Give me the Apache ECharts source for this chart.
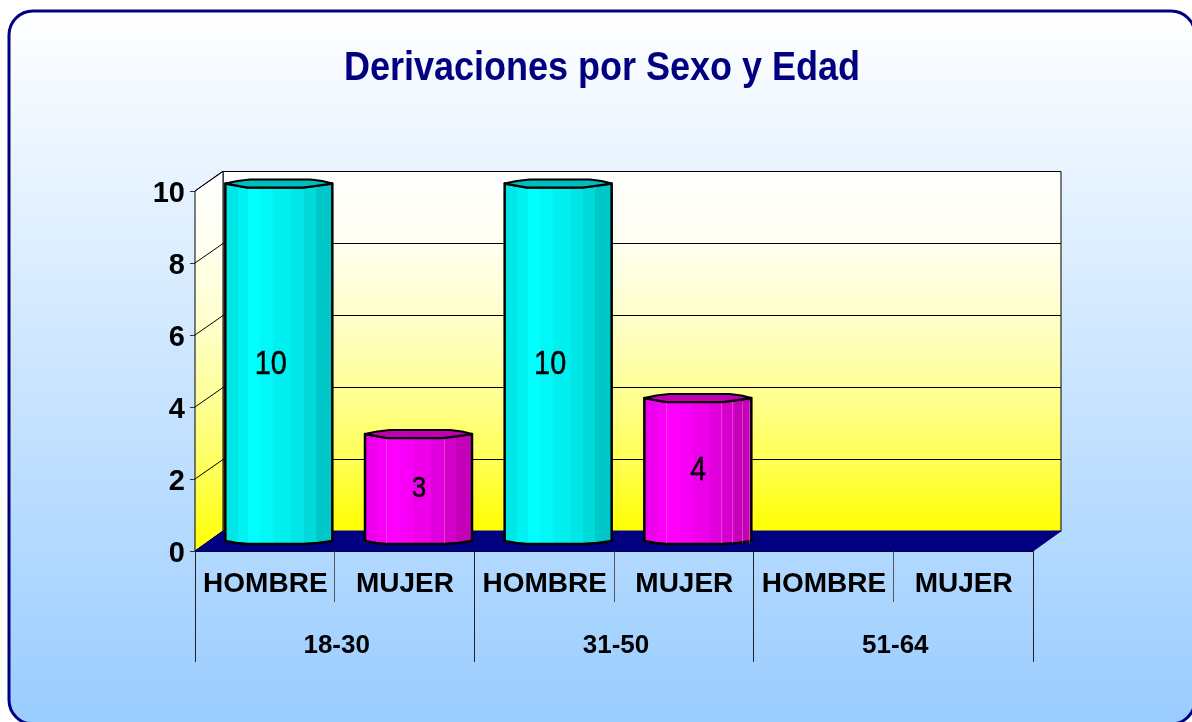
<!DOCTYPE html>
<html>
<head>
<meta charset="utf-8">
<style>html,body{margin:0;padding:0;background:#fff}#c{width:1192px;height:722px}</style>
<script src="https://cdn.jsdelivr.net/npm/echarts@6/dist/echarts.min.js"></script>
</head>
<body>
<div id="c"></div>
<script>
const titleText = 'Derivaciones por Sexo y Edad';
const sexCategories = ['HOMBRE', 'MUJER', 'HOMBRE', 'MUJER', 'HOMBRE', 'MUJER'];
const ageGroups = ['18-30', '31-50', '51-64'];
const derivaciones = [10, 3, 10, 4, 0, 0];
const yTicks = [0, 2, 4, 6, 8, 10];

const FONT = '"Liberation Sans", Arial, sans-serif';
const DX = 28, DY = -20;          // depth of the 3D box
const HALF_W = 53.5;              // half width of a column

const facetStops = [0, .125, .22, .33, .45, .61, .73, .84, 1];
const cyanFacets = ['#00e6e6', '#00f2f2', '#00ffff', '#00f8f8', '#00f0f0', '#00e6e6', '#00dada', '#00c8c8'];
const magentaFacets = ['#ee00ee', '#f800f8', '#ff00ff', '#f800f8', '#ee00ea', '#e000dc', '#d400cc', '#c400b8'];
// faint facet seams on the magenta columns, as fractions of the column width
const seamsByValue = { 3: [.2, .74], 4: [.2, .72, .82, .91, .98] };

function facetGradient(colors) {
  const stops = [];
  colors.forEach((c, i) => {
    stops.push({ offset: facetStops[i], color: c });
    stops.push({ offset: facetStops[i + 1], color: c });
  });
  return { type: 'linear', x: 0, y: 0, x2: 1, y2: 0, colorStops: stops };
}
const wallGradient = {
  type: 'linear', x: 0, y: 0, x2: 0, y2: 1,
  colorStops: [
    { offset: 0, color: '#ffffff' }, { offset: .2, color: '#fffff0' },
    { offset: .4, color: '#ffffcc' }, { offset: .6, color: '#ffff99' },
    { offset: .8, color: '#ffff55' }, { offset: 1, color: '#ffff00' }
  ]
};

function renderBox(params, api) {
  const g = params.coordSys;
  const l = g.x, r = g.x + g.width, t = g.y, b = g.y + g.height;
  const line = { stroke: '#000', lineWidth: 1, fill: null };
  const children = [
    { type: 'polygon', shape: { points: [[l + DX, t + DY + .5], [r + DX, t + DY + .5], [r + DX, b + DY + .5], [l + DX, b + DY + .5]] },
      style: { fill: wallGradient, stroke: '#000', lineWidth: 1 } },
    { type: 'polygon', shape: { points: [[l, t], [l + DX, t + DY], [l + DX, b + DY], [l, b]] },
      style: { fill: wallGradient, stroke: '#000', lineWidth: 1 } }
  ];
  yTicks.forEach(v => {
    if (v === 0) return;
    const y = api.coord([0, v])[1];
    children.push({ type: 'polyline', shape: { points: [[l, y], [l + DX, y + DY + .5], [r + DX, y + DY + .5]] }, style: line });
  });
  children.push({ type: 'polygon', shape: { points: [[l, b], [r, b], [r + DX, b + DY], [l + DX, b + DY]] },
    style: { fill: '#000080', stroke: '#000080', lineWidth: 1 } });
  return { type: 'group', children };
}

function renderColumn(params, api) {
  const idx = api.value(0), val = api.value(1);
  if (!val) return { type: 'group', children: [] };
  const top = api.coord([idx, val]);
  const base = api.coord([idx, 0]);
  const cx = top[0] + DX / 2;
  const yTop = top[1] + DY / 2 + (val >= 10 ? 1.5 : 0), yBase = base[1] + DY / 2;
  const w = HALF_W;
  const isMale = idx % 2 === 0;
  const body = [
    [cx - w, yTop + 1], [cx - w + 11, yTop + 3], [cx - w + 22, yTop + 5], [cx + w - 29, yTop + 5], [cx + w - 14, yTop + 3], [cx + w, yTop + 1],
    [cx + w, yBase], [cx + w - 14, yBase + 2], [cx + w - 29, yBase + 3], [cx - w + 22, yBase + 3], [cx - w + 11, yBase + 2], [cx - w, yBase]
  ];
  const cap = [
    [cx - w, yTop + 1], [cx - w + 12, yTop - 1.5], [cx - w + 25, yTop - 3], [cx + w - 22, yTop - 3], [cx + w - 10, yTop - 1.5], [cx + w, yTop + 1],
    [cx + w - 14, yTop + 3], [cx + w - 29, yTop + 5], [cx - w + 22, yTop + 5], [cx - w + 11, yTop + 3]
  ];
  const labelAt = api.coord([idx, val / 2]);
  const big = val !== 3;
  const seams = (seamsByValue[val] || []).map(f => {
    const x = Math.round(cx - w + f * 2 * w) + .5;
    return { type: 'line', shape: { x1: x, y1: yTop + 5, x2: x, y2: yBase + 2 },
             style: { stroke: '#ff9ad0', lineWidth: 1, opacity: .4 } };
  });
  return {
    type: 'group',
    children: [
      { type: 'polygon', shape: { points: body },
        style: { fill: facetGradient(isMale ? cyanFacets : magentaFacets), stroke: '#000', lineWidth: 2.5, lineJoin: 'round' } },
      ...seams,
      { type: 'polygon', shape: { points: cap },
        style: { fill: isMale ? '#00bcbc' : '#c000b0', stroke: '#000', lineWidth: 2, lineJoin: 'round' } },
      { type: 'text', x: cx + (val >= 10 ? -8 : 0.5), y: labelAt[1] + (val >= 10 ? -6 : -8), scaleX: .85,
        style: { text: String(val), x: 0, y: 0, fill: '#000', font: (big ? '34px ' : '30px ') + FONT,
                 stroke: '#000', lineWidth: .5,
                 textAlign: 'center', textVerticalAlign: 'middle' } }
    ]
  };
}

const chart = echarts.init(document.getElementById('c'), null, { renderer: 'canvas' });
chart.setOption({
  animation: false,
  backgroundColor: '#ffffff',
  graphic: [
    { type: 'rect', z: -10, shape: { x: 9, y: 11, width: 1186, height: 713, r: 24 },
      style: { fill: { type: 'linear', x: 0, y: 0, x2: 0, y2: 1,
                       colorStops: [{ offset: 0, color: '#ffffff' }, { offset: 1, color: '#99ccff' }] },
               stroke: '#000080', lineWidth: 3 } },
    { type: 'text', z: 10, x: 602, y: 69, scaleX: .9,
      style: { text: titleText, x: 0, y: 0, fill: '#000080', font: 'bold 40px ' + FONT,
               textAlign: 'center', textVerticalAlign: 'middle' } }
  ],
  grid: { left: 195, right: 159, top: 191, bottom: 171, containLabel: false },
  xAxis: [
    { type: 'category', data: sexCategories, position: 'bottom',
      axisLine: { show: true, lineStyle: { color: '#000', width: 1 } },
      axisTick: { show: true, length: 51, lineStyle: { color: '#555', width: 1 } },
      axisLabel: { interval: 0, margin: 19, padding: [0, 0, 0, 1], fontFamily: FONT, fontWeight: 'bold', fontSize: 28, color: '#000', hideOverlap: false },
      splitLine: { show: false } },
    { type: 'category', data: ageGroups, position: 'bottom',
      axisLine: { show: false },
      axisTick: { show: true, length: 111, lineStyle: { color: '#222', width: 1 } },
      axisLabel: { interval: 0, margin: 82, padding: [0, 0, 0, 4], fontFamily: FONT, fontWeight: 'bold', fontSize: 26, color: '#000', hideOverlap: false },
      splitLine: { show: false } }
  ],
  yAxis: {
    type: 'value', min: 0, max: 10, interval: 2,
    axisLine: { show: true, lineStyle: { color: '#000', width: 1 } },
    axisTick: { show: true, length: 5, lineStyle: { color: '#333', width: 1 } },
    axisLabel: { margin: 10, formatter: '{v|{value}}', color: '#000',
                 rich: { v: { padding: [5, 0, 0, 0], fontFamily: FONT, fontWeight: 'bold', fontSize: 29, color: '#000' } } },
    splitLine: { show: false }
  },
  series: [
    { type: 'custom', name: 'box', z: 1, silent: true, xAxisIndex: 0, yAxisIndex: 0,
      data: [[0, 0]], renderItem: renderBox },
    { type: 'custom', name: 'Derivaciones', z: 3, xAxisIndex: 0, yAxisIndex: 0,
      encode: { x: 0, y: 1 },
      data: derivaciones.map((v, i) => [i, v]), renderItem: renderColumn }
  ]
});
</script>
</body>
</html>
